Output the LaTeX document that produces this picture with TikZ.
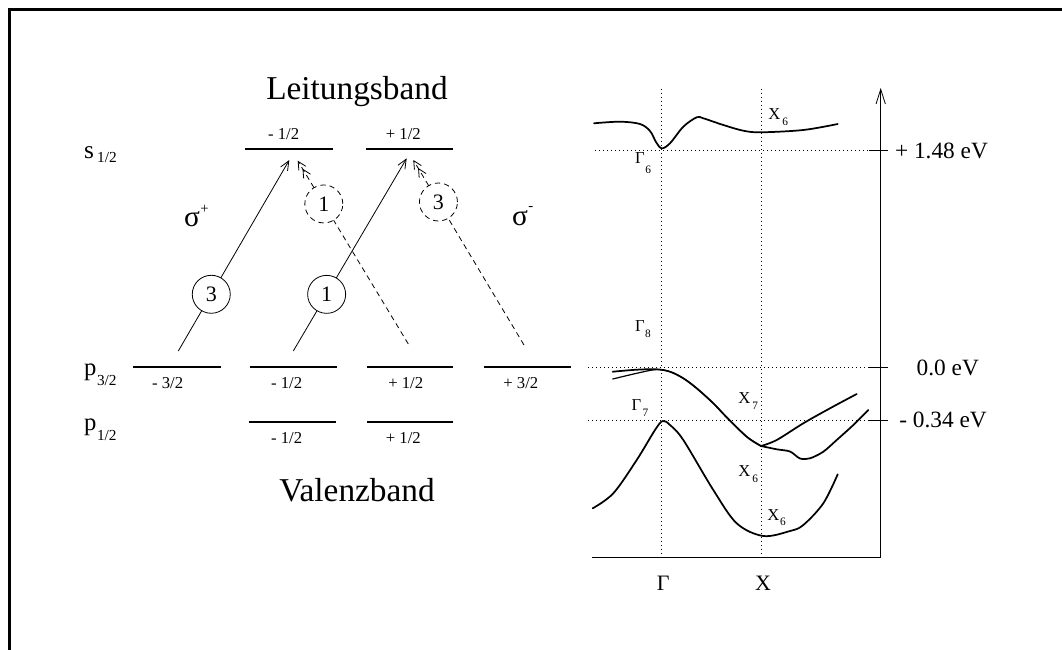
\documentclass[tikz,border=0pt]{standalone}
\usepackage{fontspec}
\setmainfont{Liberation Serif}
\usetikzlibrary{arrows.meta,calc}
\newcommand\fsz[1]{\fontsize{#1}{#1}\selectfont}
\begin{document}
\begin{tikzpicture}[x=0.75pt,y=-0.75pt,
  every node/.style={inner sep=0pt, outer sep=0pt},
  lvl/.style={line width=1.5pt},
  thinl/.style={line width=0.6pt},
  tipa/.style={-{Straight Barb[length=7pt,width=6pt]}},
  tipd/.style={-{Straight Barb[length=6pt,width=6pt]Straight Barb[length=6pt,width=6pt]}},
  dsh/.style={dash pattern=on 4pt off 3pt},
  ring/.style={circle, draw, line width=0.6pt, minimum size=28.5pt, font=\fsz{16.5}},
  band/.style={line width=1.3pt, line join=round, line cap=round},
  dotl/.style={line width=0.7pt, dash pattern=on 0.7pt off 2.3pt},
  lvlab/.style={anchor=base, font=\fsz{12.5}},
  small/.style={anchor=base west, font=\fsz{12.5}}
]
\useasboundingbox (0,0) rectangle (1062,649);
% frame
\draw[line width=2.25pt] (9.7,670) -- (9.7,9.7) -- (1080,9.7);

% titles
\node[anchor=base, font=\fsz{25}] (lb) at (357,100) {Leitungsband};
\node[anchor=base, font=\fsz{25}] (vb) at (357,501) {Valenzband};

% state labels
\node[anchor=base west] (s12) at (84,158.3) {\fsz{19}s\kern2.5pt\raisebox{-3.3pt}{\fsz{11.5}1/2}};
\node[anchor=base west] (p32) at (84,375) {\fsz{18.5}p\kern0.5pt\raisebox{-7.5pt}{\fsz{11.5}3/2}};
\node[anchor=base west] (p12) at (84,430) {\fsz{18.5}p\kern0.5pt\raisebox{-7.5pt}{\fsz{11.5}1/2}};

% levels
\draw[lvl] (245,149) -- (333,149);
\draw[lvl] (366,149) -- (453,149);
\draw[lvl] (133,367.3) -- (221,367.3);
\draw[lvl] (250,367.3) -- (337,367.3);
\draw[lvl] (367,367.3) -- (453,367.3);
\draw[lvl] (484,367.3) -- (571,367.3);
\draw[lvl] (249,421.7) -- (336,421.7);
\draw[lvl] (367,421.7) -- (453,421.7);

% level labels
\node[lvlab] (ls1) at (283.7,140) {- 1/2};
\node[lvlab] (ls2) at (403.3,140) {+ 1/2};
\node[lvlab] (lp1) at (167.7,388.3) {- 3/2};
\node[lvlab] (lp2) at (286.7,388.3) {- 1/2};
\node[lvlab] (lp3) at (405.7,388.3) {+ 1/2};
\node[lvlab] (lp4) at (520.8,388.3) {+ 3/2};
\node[lvlab] (lq1) at (286.7,443) {- 1/2};
\node[lvlab] (lq2) at (403.3,443) {+ 1/2};

% sigma labels
\node[anchor=base west] (sp) at (184,226.7) {\fsz{22}σ\kern0.5pt\raisebox{10pt}{\fsz{11}+}};
\node[anchor=base west] (sm) at (512,225) {\fsz{22}σ\kern0.5pt\raisebox{11pt}{\fsz{11}-}};

% transitions
\coordinate (a1s) at (178.3,351);  \coordinate (a1e) at (289.3,160);
\coordinate (a3s) at (293.3,351);  \coordinate (a3e) at (406.7,158.3);
\coordinate (a2s) at (408.3,344);  \coordinate (a2e) at (297.7,160.7);
\coordinate (a4s) at (524,345);    \coordinate (a4e) at (413.3,160);
\node[ring] (c1) at ($(a1s)!0.297!(a1e)$) {3};
\node[ring] (c3) at ($(a3s)!0.294!(a3e)$) {1};
\node[ring, dsh] (c2) at ($(a2s)!0.764!(a2e)$) {1};
\node[ring, dsh] (c4) at ($(a4s)!0.773!(a4e)$) {3};
\draw[thinl] (a1s) -- (c1);
\draw[thinl, tipa] (c1) -- (a1e);
\draw[thinl] (a3s) -- (c3);
\draw[thinl, tipa] (c3) -- (a3e);
\draw[thinl, dsh] (a2s) -- (c2);
\draw[thinl, dsh, tipd] (c2) -- (a2e);
\draw[thinl, dsh] (a4s) -- (c4);
\draw[thinl, dsh, tipd] (c4) -- (a4e);

% band structure: guides
\draw[dotl] (595,150.7) -- (869,150.7);
\draw[dotl] (588,367.3) -- (869,367.3);
\draw[dotl] (588,420.7) -- (869,420.7);
\draw[dotl] (661.7,89) -- (661.7,557);
\draw[dotl] (761,89) -- (761,557);
\draw[thinl] (869,150.7) -- (888,150.7);
\draw[thinl] (869,367.3) -- (888,367.3);
\draw[thinl] (869,420.7) -- (888,420.7);
\draw[thinl] (591.7,557.3) -- (880.7,557.3);
\draw[thinl, -{Straight Barb[length=11pt,width=7pt]}] (880.7,557.3) -- (880.7,88);

% bands
\draw[band] plot[smooth, tension=0.55] coordinates {(594,123.3) (620,121.7) (640,124) (650,131) (656,142) (661.7,148.3) (670,143.3) (683.3,126.7) (696.7,117.3) (703.3,118.3) (723.3,125) (743.3,130.7) (761,132.3) (803.3,130) (837.7,124)};
\draw[band] plot[smooth, tension=0.55] coordinates {(612.7,371.7) (636.7,369.7) (656.7,369.3) (670,371.7) (683.3,378.3) (696.7,388.3) (713.3,403.3) (726.7,417.3) (746.7,436.7) (761,446)};
\draw[band, line width=0.9pt] plot[smooth, tension=0.55] coordinates {(612.7,379) (636.7,373.3) (656,369.6) (670,371.7) (683.3,378.3) (696.7,388.3) (713.3,403.3) (726.7,417.3) (746.7,436.7) (761,446)};
\draw[band] plot[smooth, tension=0.55] coordinates {(761,446) (776.7,440) (803.3,423.3) (830,408.3) (856.7,394)};
\draw[band] plot[smooth, tension=0.5] coordinates {(761,446) (776.7,449.3) (790,451.5) (800,458.5) (810,458.3) (823.3,451.7) (836.7,440) (853.3,425) (868.3,410)};
\draw[band] plot[smooth, tension=0.55] coordinates {(592.7,508.3) (613.3,493.3) (636.7,460) (655,430) (662.7,421) (670,425) (683.3,440) (713.3,490) (736.7,523.3) (763.3,536) (790,531) (803.3,525) (823.3,503.3) (837.7,474.3)};

% band labels
\node[small] (x6a) at (768.3,119.3) {X\kern1.5pt\raisebox{-5pt}{\fsz{8.5}6}};
\node[small] (g6) at (635,163.3) {Γ\kern0.5pt\raisebox{-8pt}{\fsz{8.5}6}};
\node[small] (g8) at (635,331.7) {Γ\kern0.3pt\raisebox{-4.7pt}{\fsz{8.5}8}};
\node[small] (g7) at (631.7,410) {Γ\kern1pt\raisebox{-4.5pt}{\fsz{8.5}7}};
\node[small] (x7) at (738.3,403.3) {X\kern1.5pt\raisebox{-5pt}{\fsz{8.5}7}};
\node[small] (x6b) at (738.3,476.7) {X\kern1.5pt\raisebox{-4.5pt}{\fsz{8.5}6}};
\node[small] (x6c) at (767.3,520) {X\kern0.5pt\raisebox{-3.8pt}{\fsz{8.5}6}};

% energies
\node[anchor=base west, font=\fsz{17.5}] (e1) at (895,158.3) {+ 1.48 eV};
\node[anchor=base west, font=\fsz{17.5}] (e2) at (916.7,375) {0.0 eV};
\node[anchor=base west, font=\fsz{17.5}] (e3) at (899.3,427.3) {- 0.34 eV};

% k labels
\node[anchor=base, font=\fsz{16.5}] (kg) at (663.3,590.7) {Γ};
\node[anchor=base, font=\fsz{16.5}] (kx) at (763,590.7) {X};
\end{tikzpicture}
\end{document}
